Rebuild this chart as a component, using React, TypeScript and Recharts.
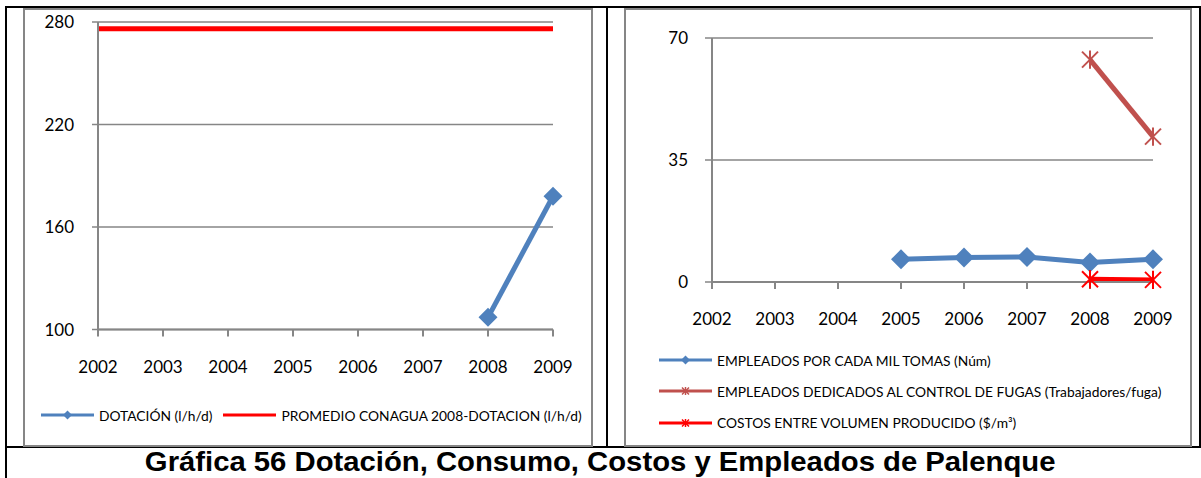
import { LineChart, Line, XAxis, YAxis, CartesianGrid, Legend } from 'recharts';

const years = ['2002', '2003', '2004', '2005', '2006', '2007', '2008', '2009'];

// left chart
const dotacion = [null, null, null, null, null, null, 107.1, 178];
const promedioConagua = [276, 276, 276, 276, 276, 276, 276, 276];
const leftTicks = [100, 160, 220, 280];

// right chart
const empleadosMilTomas = [null, null, null, 6.5, 7.0, 7.2, 5.6, 6.5];
const empleadosFugas = [null, null, null, null, null, null, 63.8, 41.7];
const costosVolumen = [null, null, null, null, null, null, 0.8, 0.6];
const rightTicks = [0, 35, 70];

const leftData = years.map((y, i) => ({ year: y, dotacion: dotacion[i], promedio: promedioConagua[i] }));
const rightData = years.map((y, i) => ({
  year: y,
  tomas: empleadosMilTomas[i],
  fugas: empleadosFugas[i],
  costos: costosVolumen[i],
}));

const BLUE = '#4F81BD';
const BROWN = '#C0504D';
const RED = '#FF0000';
const GRID = '#868686';
const FONT = 'Lato, "Open Sans", sans-serif';

const Diamond = ({ cx, cy, r, color }: { cx: number; cy: number; r: number; color: string }) => (
  <polygon points={`${cx},${cy - r} ${cx + r},${cy} ${cx},${cy + r} ${cx - r},${cy}`} fill={color} />
);

const Star = ({ cx, cy, r, color, w }: { cx: number; cy: number; r: number; color: string; w: number }) => (
  <g stroke={color} strokeWidth={w}>
    <line x1={cx - r} y1={cy - r} x2={cx + r} y2={cy + r} />
    <line x1={cx - r} y1={cy + r} x2={cx + r} y2={cy - r} />
    <line x1={cx} y1={cy - r * 1.15} x2={cx} y2={cy + r * 1.15} />
  </g>
);

const diamondDot = (color: string, r: number) => (props: any) => {
  const { cx, cy, index, value } = props;
  if (cy == null || value == null) return <g key={index} />;
  return <Diamond key={index} cx={cx} cy={cy} r={r} color={color} />;
};

const starDot = (color: string, r: number) => (props: any) => {
  const { cx, cy, index, value } = props;
  if (cy == null || value == null) return <g key={index} />;
  return <g key={index}><Star cx={cx} cy={cy} r={r} color={color} w={2} /></g>;
};

type LegendItem = { label: string; color: string; marker: 'diamond' | 'star' | 'none' };

const LegendIcon = ({ item }: { item: LegendItem }) => (
  <svg width={53} height={16} style={{ display: 'block', flex: 'none' }}>
    <line x1={0} y1={8} x2={53} y2={8} stroke={item.color} strokeWidth={3} />
    {item.marker === 'diamond' && <Diamond cx={26.5} cy={8} r={4.5} color={item.color} />}
    {item.marker === 'star' && <Star cx={26.5} cy={8} r={3.5} color={item.color} w={1.5} />}
  </svg>
);

const leftLegend: LegendItem[] = [
  { label: 'DOTACIÓN (l/h/d)', color: BLUE, marker: 'diamond' },
  { label: 'PROMEDIO CONAGUA 2008-DOTACION (l/h/d)', color: RED, marker: 'none' },
];

const rightLegend: LegendItem[] = [
  { label: 'EMPLEADOS POR CADA MIL TOMAS (Núm)', color: BLUE, marker: 'diamond' },
  { label: 'EMPLEADOS DEDICADOS AL CONTROL DE FUGAS (Trabajadores/fuga)', color: BROWN, marker: 'star' },
  { label: 'COSTOS ENTRE VOLUMEN PRODUCIDO ($/m³)', color: RED, marker: 'star' },
];

const renderLegend = (items: LegendItem[], vertical: boolean) => () => (
  <div style={{ display: 'flex', flexDirection: vertical ? 'column' : 'row', fontFamily: FONT, fontSize: 13.8, color: '#000' }}>
    {items.map((it) => (
      <div
        key={it.label}
        style={{ display: 'flex', alignItems: 'center', height: 16, marginRight: 11, marginBottom: vertical ? 15.3 : 0, whiteSpace: 'nowrap' }}
      >
        <LegendIcon item={it} />
        <span style={{ marginLeft: 5 }}>{it.label}</span>
      </div>
    ))}
  </div>
);

const tickStyle = { fontSize: 17, fill: '#000', fontFamily: FONT };

const box = (left: number, top: number, width: number, height: number, bg: string) => (
  <div style={{ position: 'absolute', left, top, width, height, background: bg }} />
);

export default function App() {
  return (
    <div style={{ position: 'absolute', left: 0, top: 0, width: 1201, height: 478, background: '#fff', overflow: 'hidden' }}>
      {/* table borders */}
      {box(5, 6, 1196, 2, '#000')}
      {box(5, 6, 2, 472, '#000')}
      {box(606, 6, 2, 441, '#000')}
      {box(5, 446, 1196, 2, '#000')}
      {box(1199, 6, 2, 441, '#000')}

      {/* chart frames */}
      <div style={{ position: 'absolute', left: 23, top: 8, width: 570, height: 439, border: `2px solid ${GRID}`, boxSizing: 'border-box' }} />
      <div style={{ position: 'absolute', left: 624, top: 8, width: 568, height: 439, border: `2px solid ${GRID}`, boxSizing: 'border-box' }} />

      <div style={{ position: 'absolute', left: 24, top: 9 }}>
        <LineChart width={567} height={436} data={leftData} margin={{ top: 13, right: 38, left: 0, bottom: 0 }}>
          <CartesianGrid vertical={false} stroke={GRID} strokeWidth={1.5} />
          <XAxis
            dataKey="year"
            height={115.5}
            tick={tickStyle}
            tickSize={7}
            tickMargin={24}
            axisLine={{ stroke: GRID, strokeWidth: 2 }}
            tickLine={{ stroke: GRID, strokeWidth: 2 }}
            interval={0}
          />
          <YAxis
            domain={[100, 280]}
            ticks={leftTicks}
            width={74}
            tick={tickStyle}
            tickSize={6}
            tickMargin={18}
            axisLine={{ stroke: GRID, strokeWidth: 2 }}
            tickLine={{ stroke: GRID, strokeWidth: 1.5 }}
          />
          <Line dataKey="promedio" stroke={RED} strokeWidth={5} dot={false} isAnimationActive={false} />
          <Line dataKey="dotacion" stroke={BLUE} strokeWidth={5} dot={diamondDot(BLUE, 9.5)} isAnimationActive={false} />
          <Legend verticalAlign="middle" content={renderLegend(leftLegend, false)} wrapperStyle={{ top: 398, left: 17, width: 'auto', height: 'auto' }} />
        </LineChart>
      </div>

      <div style={{ position: 'absolute', left: 625, top: 9 }}>
        <LineChart width={566} height={436} data={rightData} margin={{ top: 29, right: 38, left: 0, bottom: 0 }}>
          <CartesianGrid vertical={false} stroke={GRID} strokeWidth={1.5} />
          <XAxis
            dataKey="year"
            height={163}
            tick={tickStyle}
            tickSize={7}
            tickMargin={24}
            axisLine={{ stroke: GRID, strokeWidth: 2 }}
            tickLine={{ stroke: GRID, strokeWidth: 2 }}
            interval={0}
          />
          <YAxis
            domain={[0, 70]}
            ticks={rightTicks}
            width={87}
            tick={tickStyle}
            tickSize={7}
            tickMargin={17}
            axisLine={{ stroke: GRID, strokeWidth: 2 }}
            tickLine={{ stroke: GRID, strokeWidth: 1.5 }}
          />
          <Line dataKey="tomas" stroke={BLUE} strokeWidth={5} dot={diamondDot(BLUE, 10)} isAnimationActive={false} />
          <Line dataKey="fugas" stroke={BROWN} strokeWidth={5} dot={starDot(BROWN, 8)} isAnimationActive={false} />
          <Line dataKey="costos" stroke={RED} strokeWidth={5} dot={starDot(RED, 8)} isAnimationActive={false} />
          <Legend verticalAlign="middle" content={renderLegend(rightLegend, true)} wrapperStyle={{ top: 343, left: 34, width: 'auto', height: 'auto' }} />
        </LineChart>
      </div>

      <div
        style={{
          position: 'absolute',
          left: 0,
          width: 1201,
          top: 447,
          textAlign: 'center',
          fontFamily: '"Liberation Sans", Arial, sans-serif',
          fontWeight: 'bold',
          fontSize: 27.5,
          lineHeight: '30px',
          color: '#000',
          transform: 'scaleX(1.064)',
          transformOrigin: '606px 0',
        }}
      >
        Gráfica 56 Dotación, Consumo, Costos y Empleados de Palenque
      </div>
    </div>
  );
}
